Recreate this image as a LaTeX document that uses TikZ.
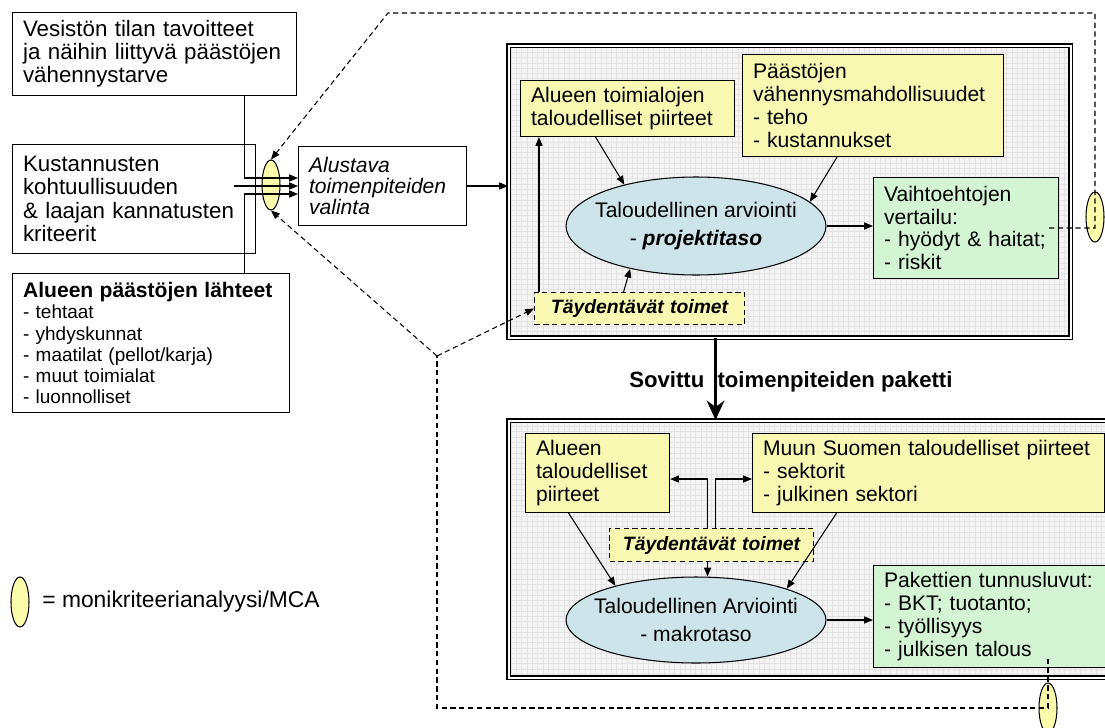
\documentclass[tikz,border=0pt]{standalone}
\usepackage{fontspec}
\setmainfont{Liberation Sans}
\usetikzlibrary{shapes.geometric}
\usetikzlibrary{arrows.meta}
\usetikzlibrary{patterns}

\definecolor{boxyellow}{RGB}{248,248,178}
\definecolor{boxgreen}{RGB}{212,245,212}
\definecolor{assessblue}{RGB}{205,228,234}
\definecolor{mcayellow}{RGB}{252,252,170}

\begin{document}
\begin{tikzpicture}[x=0.02cm, y=-0.02cm, font=\fontsize{12}{13}\selectfont]
            \tikzstyle{plain box} = [draw, line width=0.6pt, anchor=north west, align=left, inner xsep=6pt, inner ysep=2pt]
            \tikzstyle{input box} = [plain box, font=\fontsize{12.7}{13.2}\selectfont]
            \tikzstyle{yellow box} = [plain box, fill=boxyellow]
            \tikzstyle{green box} = [plain box, fill=boxgreen]
            \tikzstyle{extra box} = [plain box, fill=boxyellow, dash pattern=on 3pt off 2pt, align=center, font=\fontsize{11}{13}\selectfont\bfseries\itshape]
            \tikzstyle{assessment} = [ellipse, draw, line width=0.6pt, fill=assessblue, minimum width=5.2cm, inner sep=0]
            \tikzstyle{assessment text} = [align=center, font=\fontsize{12}{16.4}\selectfont]
            \tikzstyle{mca} = [ellipse, draw, line width=0.6pt, fill=mcayellow, minimum width=0.36cm, minimum height=1cm, inner sep=0]
            \tikzstyle{panel} = [draw, double, double distance=1.2pt, line width=0.8pt, preaction={fill=gray!9}, pattern=grid, pattern color=gray!22, anchor=north west, inner sep=0]
            \tikzstyle{flow} = [line width=0.6pt, -{Triangle[length=5pt, width=4pt]}]
            \tikzstyle{mca loop} = [line width=0.6pt, dash pattern=on 3pt off 2pt, -{Triangle[length=5pt, width=4pt]}]
            \tikzstyle{package arrow} = [line width=1.8pt, -{Stealth[length=11pt, width=10pt]}]

            \useasboundingbox (0,0) rectangle (1105,727);
            \clip (0,0) rectangle (1105,727);

            \node[input box, text width=5.26cm, minimum height=1.66cm] (vesisto) at (12,12) {Vesistön tilan tavoitteet\\ja näihin liittyvä päästöjen\\vähennystarve};
            \node[input box, text width=4.44cm, minimum height=2.18cm] (kriteerit) at (12,144) {Kustannusten\\kohtuullisuuden\\\& laajan kannatusten\\kriteerit};
            \node[plain box, text width=5.12cm, minimum height=2.78cm, font=\fontsize{10.8}{12}\selectfont] (lahteet) at (12,273) {{\fontsize{12}{12}\selectfont\bfseries Alueen päästöjen lähteet}\\- tehtaat\\- yhdyskunnat\\- maatilat (pellot/karja)\\- muut toimialat\\- luonnolliset};
            \node[plain box, text width=2.94cm, minimum height=1.58cm, font=\fontsize{12}{12.2}\selectfont\itshape] (alustava) at (298,146) {Alustava\\toimenpiteiden\\valinta};

            \node[panel, minimum width=11.24cm, minimum height=5.84cm] (ptaso) at (508,45) {};
            \node[yellow box, text width=3.86cm, minimum height=1.12cm] (toimialat) at (520,80) {Alueen toimialojen\\taloudelliset piirteet};
            \node[yellow box, text width=4.8cm, minimum height=2.04cm] (vahennys) at (742,54) {Päästöjen\\vähennysmahdollisuudet\\- teho\\- kustannukset};
            \node[assessment, minimum height=1.96cm, label={[assessment text]center:Taloudellinen arviointi\\- \textbf{\textit{projektitaso}}}] (arvio) at (696,226) {};
            \node[green box, text width=3.28cm, minimum height=2.02cm] (vertailu) at (873,177) {Vaihtoehtojen\\vertailu:\\- hyödyt \& haitat;\\- riskit};
            \node[extra box, text width=3.78cm, minimum height=0.64cm] (taydYla) at (534,292) {Täydentävät toimet};

            \node[panel, minimum width=12.2cm, minimum height=5.14cm] (mtaso) at (508,420) {};
            \node[yellow box, text width=2.46cm, minimum height=1.58cm] (alueTal) at (525,433) {Alueen\\taloudelliset\\piirteet};
            \node[yellow box, text width=6.62cm, minimum height=1.58cm] (muun) at (752,433) {Muun Suomen taloudelliset piirteet\\- sektorit\\- julkinen sektori};
            \node[extra box, text width=3.66cm, minimum height=0.66cm] (taydAla) at (609,528) {Täydentävät toimet};
            \node[assessment, minimum height=1.72cm, label={[assessment text]center:Taloudellinen Arviointi\\- makrotaso}] (makro) at (696,620) {};
            \node[green box, text width=4.48cm, minimum height=2.04cm] (tunnus) at (873,565) {Pakettien tunnusluvut:\\- BKT; tuotanto;\\- työllisyys\\- julkisen talous};

            \node[mca] (mcaVasen) at (271,185) {};
            \node[mca] (mcaOikea) at (1095,217) {};
            \node[mca] (mcaAlas) at (1048,708) {};
            \node[mca] (mcaSelite) at (20,602) {};
            \node[anchor=west, inner sep=0, font=\fontsize{13}{14}\selectfont] (selite) at (42,602) {= monikriteerianalyysi/MCA};
            \node[anchor=west, inner sep=0, font=\fontsize{12.6}{14}\selectfont\bfseries] (paketti) at (629,382) {Sovittu\hspace{7.5pt}toimenpiteiden paketti};

            \coordinate (ylakulma) at (1095,13);
            \coordinate (vasenkulma) at (388,13);
            \coordinate (risteys) at (437,356);

            \draw[flow] ([xshift=-1.06cm]vesisto.south east) |- ([yshift=0.16cm]alustava.west);
            \draw[flow] ([xshift=-0.44cm]kriteerit.east |- alustava.west) -- (alustava.west);
            \draw[flow] ([xshift=-0.92cm]lahteet.north east) |- ([yshift=-0.16cm]alustava.west);
            \draw[flow] (alustava.east) -- (alustava.east -| ptaso.west);

            \draw[flow] ([xshift=-0.64cm]toimialat.south) -- (arvio.150);
            \draw[flow] ([xshift=-0.72cm]vahennys.south) -- (arvio.12);
            \draw[flow] ([xshift=-0.32cm]taydYla.north) -- (arvio.213);
            \draw[flow] ([xshift=0.1cm]taydYla.north west) -- ([xshift=0.1cm]taydYla.north west |- toimialat.south);
            \draw[flow] (arvio.east) -- (arvio.east -| vertailu.west);

            \draw[package arrow] ([xshift=0.08cm]ptaso.south -| taydAla.north) -- ([xshift=0.08cm]mtaso.north -| taydAla.north);

            \draw[flow] ([xshift=-0.58cm]alueTal.south) -- (makro.157);
            \draw[flow] ([xshift=-1.84cm]muun.south) -- (makro.19);
            \draw[flow] ([xshift=-0.08cm]taydAla.south) -- ([xshift=-0.08cm]taydAla.south |- makro.north);
            \draw[flow] ([xshift=-0.08cm]taydAla.north) |- ([yshift=-0.12cm]alueTal.east);
            \draw[flow] ([xshift=0.08cm]taydAla.north) |- ([yshift=-0.12cm]muun.west);
            \draw[flow] (makro.east) -- (makro.east -| tunnus.west);

            \draw[mca loop] ([xshift=-0.2cm]vertailu.east) -| (ylakulma) -- (vasenkulma) -- (mcaVasen.north);
            \draw[mca loop, -] ([yshift=0.18cm]mcaAlas |- tunnus.south) -- (mcaAlas.center) -| (risteys);
            \draw[mca loop] (risteys) -- (mcaVasen.south);
            \draw[mca loop] (risteys) -- (taydYla.west);

        \end{tikzpicture}
\end{document}
